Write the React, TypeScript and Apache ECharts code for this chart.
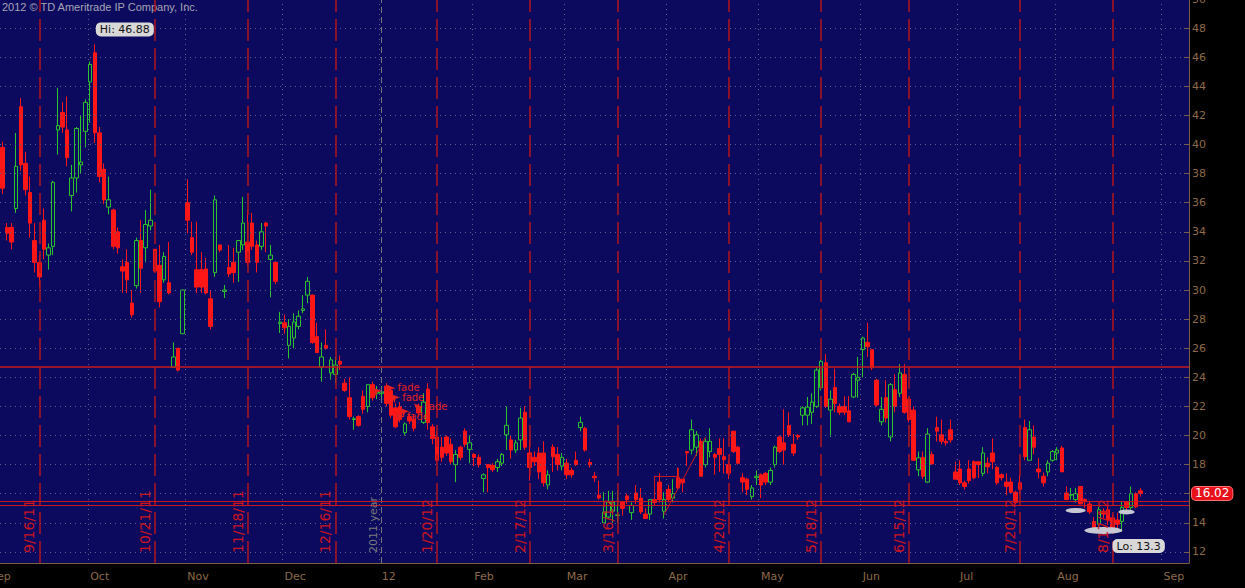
import React, { useEffect, useRef } from 'react';
import * as echarts from 'echarts';

// ---------- calendar ----------
const FIRST_DAY = '2011-09-06';
const LAST_DAY = '2012-09-11';
const HOLIDAYS = ['2011-09-05', '2011-11-24', '2011-12-26', '2012-01-02', '2012-01-16', '2012-02-20', '2012-04-06', '2012-05-28', '2012-07-04', '2012-09-03'];

function tradingDays(first: string, last: string): string[] {
  const out: string[] = [];
  const d = new Date(first + 'T00:00:00Z');
  const end = new Date(last + 'T00:00:00Z');
  while (d <= end) {
    const s = d.toISOString().slice(0, 10);
    const wd = d.getUTCDay();
    if (wd !== 0 && wd !== 6 && HOLIDAYS.indexOf(s) < 0) out.push(s);
    d.setUTCDate(d.getUTCDate() + 1);
  }
  return out;
}
const dates = tradingDays(FIRST_DAY, LAST_DAY);

// ---------- daily candles [open, close, low, high] ----------
const sep11 = [
  [39.8, 37.0, 36.6, 40.2], [34.3, 33.9, 33.4, 34.6], [34.3, 33.3, 32.8, 34.6], [35.6, 38.5, 35.3, 40.8],
  [42.6, 38.6, 38.2, 43.2], [38.7, 36.9, 36.5, 39.5], [36.7, 34.6, 33.6, 37.8], [33.4, 31.9, 31.2, 34.6],
  [31.9, 30.9, 30.2, 32.4], [34.8, 32.8, 32.1, 35.6], [32.4, 32.9, 31.4, 33.2], [33.0, 37.4, 32.4, 37.5],
  [41.0, 41.3, 39.3, 43.9], [42.2, 41.2, 40.8, 42.9], [41.0, 39.1, 38.5, 43.3], [36.5, 37.7, 35.4, 38.6],
  [37.7, 41.1, 36.7, 41.2], [38.6, 38.8, 38.0, 42.0], [40.9, 42.9, 39.8, 43.1],
];
const oct11 = [
  [44.3, 45.5, 41.5, 45.7], [46.3, 40.8, 40.1, 46.88], [40.8, 37.8, 37.4, 41.2], [38.3, 36.2, 35.9, 38.7],
  [35.7, 36.2, 35.2, 37.8], [35.5, 33.0, 32.8, 35.6], [34.0, 32.9, 32.5, 34.3], [31.6, 31.3, 29.8, 32.1],
  [31.9, 30.7, 29.8, 32.8], [29.1, 28.3, 28.1, 30.0], [30.3, 33.4, 30.1, 33.6], [33.4, 31.5, 29.8, 34.8],
  [32.9, 34.5, 31.9, 35.5], [34.4, 34.8, 34.1, 36.9], [32.8, 31.3, 31.2, 32.8], [31.7, 29.2, 28.8, 33.1],
  [30.7, 32.3, 30.5, 32.6], [30.5, 29.8, 29.7, 33.3], [24.7, 25.4, 24.7, 26.4], [26.0, 24.5, 24.4, 26.0],
  [27.0, 30.0, 27.0, 30.0],
];
const nov11 = [
  [36.0, 34.8, 33.9, 37.6], [33.6, 32.6, 32.4, 34.7], [31.4, 30.2, 29.8, 34.7], [31.4, 30.2, 29.8, 32.6],
  [31.45, 29.8, 29.7, 32.2], [29.4, 27.5, 27.3, 30.0], [31.2, 36.2, 30.9, 36.5], [33.1, 32.75, 32.6, 33.1],
  [29.9, 30.0, 29.45, 30.35], [31.55, 31.1, 30.9, 33.1], [31.9, 31.2, 30.5, 32.9], [32.6, 33.4, 30.55, 33.4],
  [33.1, 34.6, 32.75, 36.4], [33.3, 31.9, 31.7, 35.5], [34.6, 33.0, 32.75, 35.3], [33.1, 31.9, 31.2, 33.4],
  [33.0, 34.0, 32.75, 34.6], [34.6, 34.4, 32.6, 34.7], [32.1, 32.4, 29.5, 33.1], [31.9, 30.6, 30.4, 31.9],
  [27.7, 27.8, 27.05, 28.5],
];
const dec11 = [
  [27.75, 27.4, 27.0, 28.3], [26.2, 27.5, 25.3, 28.0], [26.7, 27.8, 26.0, 28.4], [27.5, 28.2, 27.3, 28.6],
  [28.6, 28.7, 28.4, 29.65], [29.65, 30.6, 29.1, 30.9], [29.65, 26.4, 26.3, 29.7], [26.8, 25.7, 25.7, 27.75],
  [24.7, 25.4, 23.7, 26.4], [26.2, 26.0, 25.9, 27.3], [24.3, 25.2, 23.85, 25.4], [24.2, 24.85, 23.6, 25.4],
  [25.1, 24.9, 24.5, 25.5], [23.6, 23.1, 23.0, 23.9], [22.6, 21.3, 21.1, 24.0], [21.1, 21.15, 20.4, 21.3],
  [21.3, 20.7, 20.6, 21.4], [22.7, 21.8, 21.5, 23.1], [22.0, 23.5, 21.6, 23.5], [23.5, 22.6, 22.4, 23.7],
  [22.9, 23.0, 22.5, 23.4],
];
const jan12 = [
  [22.9, 23.0, 22.4, 23.4], [23.4, 22.2, 22.0, 23.6], [23.1, 21.4, 21.2, 23.2], [21.9, 20.6, 20.5, 22.2],
  [22.0, 21.1, 20.9, 22.3], [20.2, 20.8, 20.0, 20.9], [21.3, 21.0, 20.8, 21.5], [21.1, 20.5, 20.3, 21.4],
  [22.0, 21.55, 21.3, 22.2], [20.9, 22.3, 20.8, 22.9], [23.2, 20.9, 20.4, 23.6], [20.6, 19.8, 19.4, 20.8],
  [19.9, 18.3, 18.2, 20.3], [19.2, 18.5, 18.2, 19.9], [19.9, 18.8, 18.6, 20.0], [19.4, 18.2, 18.0, 19.8],
  [18.0, 18.7, 16.8, 19.0], [19.2, 18.5, 18.3, 19.3], [20.3, 19.4, 19.2, 20.5], [19.05, 19.5, 18.1, 20.0],
];
const feb12 = [
  [18.7, 18.5, 17.9, 18.8], [18.5, 18.0, 17.8, 18.7], [17.05, 17.3, 16.1, 17.4], [18.0, 17.8, 16.1, 18.0],
  [17.95, 17.65, 17.5, 18.1], [17.8, 18.2, 17.5, 18.4], [18.1, 18.7, 17.9, 18.8], [20.05, 20.7, 19.0, 22.0],
  [19.7, 19.0, 18.4, 20.0], [19.0, 19.5, 18.8, 19.7], [19.7, 21.2, 19.0, 21.9], [21.6, 19.2, 19.0, 22.0],
  [18.8, 17.8, 16.9, 19.7], [18.5, 18.2, 17.9, 18.9], [18.8, 17.5, 17.0, 19.2], [18.8, 16.75, 16.5, 19.6],
  [16.6, 17.3, 16.3, 17.6], [19.2, 18.55, 17.5, 19.4], [18.7, 18.0, 17.6, 19.2], [17.9, 18.5, 17.6, 18.8],
];
const mar12 = [
  [18.1, 17.3, 17.0, 18.4], [17.6, 17.3, 17.1, 17.8], [18.3, 18.0, 17.9, 18.9], [20.55, 20.9, 20.3, 21.3],
  [20.5, 19.0, 18.9, 20.6], [18.15, 18.0, 17.8, 18.4], [17.2, 17.1, 16.8, 17.5], [15.9, 15.7, 15.6, 16.9],
  [14.0, 14.75, 14.0, 16.1], [14.4, 15.4, 14.3, 16.2], [14.8, 15.4, 14.0, 16.2], [14.5, 14.55, 14.0, 16.2],
  [15.4, 15.0, 14.5, 15.5], [15.85, 15.6, 15.3, 16.0], [14.7, 15.2, 14.2, 15.4], [16.05, 15.6, 15.3, 16.6],
  [15.7, 14.75, 14.6, 16.4], [14.6, 14.3, 14.3, 15.0], [14.6, 15.6, 14.2, 15.6], [15.6, 15.4, 15.2, 15.7],
  [16.8, 15.6, 15.4, 17.4], [14.8, 15.6, 14.3, 16.1],
];
const apr12 = [
  [16.3, 15.6, 15.4, 16.6], [15.7, 16.0, 15.4, 17.0], [17.1, 16.4, 16.3, 17.8], [17.0, 16.75, 16.1, 17.0],
  [18.9, 18.8, 17.9, 18.9], [19.0, 20.4, 18.7, 21.1], [19.2, 20.05, 18.6, 20.3], [19.6, 17.2, 17.2, 19.8],
  [18.0, 19.6, 17.8, 19.8], [18.9, 19.6, 18.5, 20.5], [18.7, 18.5, 17.3, 18.8], [19.1, 18.7, 17.5, 19.8],
  [18.55, 18.35, 17.4, 19.8], [18.0, 17.4, 17.0, 18.3], [20.3, 18.9, 18.8, 20.3], [19.2, 18.1, 18.0, 19.3],
  [17.1, 16.8, 16.1, 17.4], [17.0, 16.3, 15.9, 17.1], [15.8, 16.4, 15.6, 16.6], [17.1, 17.2, 16.6, 17.6],
];
const may12 = [
  [17.3, 16.6, 15.7, 17.4], [17.4, 16.8, 16.6, 17.5], [16.8, 17.6, 16.6, 17.8], [18.0, 19.2, 17.8, 19.3],
  [19.9, 18.9, 18.8, 20.0], [19.5, 19.0, 18.0, 21.8], [20.7, 20.05, 19.9, 21.6], [19.4, 18.8, 18.6, 20.1],
  [20.0, 19.9, 19.7, 20.1], [21.4, 21.9, 20.7, 22.0], [21.4, 21.95, 20.7, 22.65], [21.6, 22.3, 20.8, 22.9],
  [22.0, 24.5, 21.9, 24.7], [23.3, 25.1, 23.1, 25.2], [25.0, 22.0, 21.9, 25.6], [21.75, 22.5, 19.9, 23.1],
  [23.3, 22.2, 21.6, 24.6], [22.0, 21.6, 21.4, 22.2], [22.0, 21.6, 21.4, 22.7], [21.7, 20.95, 20.9, 22.7],
  [22.65, 24.2, 22.6, 24.3], [23.8, 24.0, 22.6, 25.4],
];
const jun12 = [
  [25.9, 26.7, 24.0, 26.8], [26.4, 26.1, 25.4, 27.75], [25.9, 24.65, 24.5, 25.9], [23.8, 22.1, 22.0, 23.9],
  [20.95, 21.8, 20.7, 22.65], [22.6, 21.2, 20.9, 23.8], [19.9, 23.5, 19.6, 23.6], [23.15, 22.0, 21.6, 24.2],
  [22.9, 24.3, 22.65, 24.9], [24.2, 21.6, 21.5, 24.9], [22.5, 21.1, 20.9, 22.6], [21.75, 18.3, 18.3, 22.0],
  [17.64, 18.47, 17.2, 18.9], [18.5, 17.2, 17.0, 18.9], [16.8, 20.1, 16.75, 20.5], [18.7, 18.05, 18.0, 18.9],
  [20.55, 20.3, 19.6, 21.3], [20.05, 19.6, 19.4, 21.1], [19.6, 19.5, 19.3, 19.8], [20.4, 19.7, 19.5, 21.1],
  [17.5, 17.0, 17.0, 18.2],
];
const jul12 = [
  [17.7, 16.75, 16.6, 18.3], [16.75, 16.5, 16.3, 16.9], [17.7, 16.9, 16.7, 18.3], [18.2, 17.1, 17.0, 18.3],
  [18.2, 18.0, 17.1, 18.2], [17.4, 18.8, 17.2, 19.2], [18.1, 17.85, 17.4, 18.5], [18.8, 18.2, 17.7, 19.8],
  [17.8, 16.75, 16.6, 17.9], [17.3, 17.1, 16.9, 17.4], [16.8, 16.5, 15.9, 17.4], [16.8, 16.1, 16.0, 17.1],
  [16.1, 15.4, 15.3, 16.2], [16.75, 16.3, 16.0, 17.3], [20.55, 18.55, 18.3, 21.1], [18.3, 20.4, 18.3, 21.0],
  [19.9, 19.2, 18.7, 20.7], [17.7, 17.5, 17.05, 18.45], [17.2, 16.75, 16.5, 17.45], [17.5, 18.1, 17.2, 18.3],
  [18.3, 18.9, 18.2, 19.0],
];
const aug12 = [
  [18.8, 19.0, 18.3, 19.2], [19.15, 17.5, 17.5, 19.3], [16.05, 15.6, 15.6, 16.5], [15.9, 15.95, 15.6, 16.4],
  [15.6, 16.0, 15.4, 16.4], [16.5, 15.3, 15.3, 16.5], [15.6, 15.45, 15.0, 15.7], [15.3, 14.75, 14.6, 15.45],
  [14.1, 13.65, 13.65, 14.4], [13.9, 14.9, 13.4, 15.1], [14.8, 14.6, 14.3, 15.0], [14.9, 14.2, 13.85, 15.1],
  [14.35, 13.45, 13.3, 14.55], [14.2, 13.9, 13.6, 14.7], [14.1, 15.05, 13.4, 15.45], [15.4, 15.05, 14.9, 15.5],
  [15.05, 16.0, 14.9, 16.5], [16.0, 15.1, 15.0, 16.1], [16.2, 16.02, 15.8, 16.4],
];
const candles = [...sep11, ...oct11, ...nov11, ...dec11, ...jan12, ...feb12, ...mar12, ...apr12, ...may12, ...jun12, ...jul12, ...aug12];

// ---------- axis / reference values ----------
const yTicks = [12, 14, 16, 18, 20, 22, 24, 26, 28, 30, 32, 34, 36, 38, 40, 42, 44, 46, 48, 50];
const yLabelTicks = [12, 14, 18, 20, 22, 24, 26, 28, 30, 32, 34, 36, 38, 40, 42, 44, 46, 48, 50];
const monthNames = ['Jan', 'Feb', 'Mar', 'Apr', 'May', 'Jun', 'Jul', 'Aug', 'Sep', 'Oct', 'Nov', 'Dec'];
const expirations = ['2011-09-16', '2011-10-21', '2011-11-18', '2011-12-16', '2012-01-20', '2012-02-17', '2012-03-16', '2012-04-20', '2012-05-18', '2012-06-15', '2012-07-20', '2012-08-17'];
const yearMarker = '2012-01-03';
const resistance = 24.72;
const supports = [15.47, 15.2];
const lastClose = 16.02;
const hiPoint = { date: '2011-10-04', value: 46.88 };
const loPoint = { date: '2012-08-17', value: 13.3 };
const fadeNotes = [
  { date: '2012-01-04', value: 23.5, text: 'fade' },
  { date: '2012-01-05', value: 22.85, text: 'fade' },
  { date: '2012-01-12', value: 22.2, text: 'fade' },
  { date: '2012-01-06', value: 21.55, text: 'fade' },
  { date: '2011-12-29', value: 23.3, text: '' },
  { date: '2012-01-09', value: 21.9, text: '' },
];
const ellipses = [
  { date: '2012-08-07', value: 14.85, w: 20, h: 5 },
  { date: '2012-08-15', value: 13.48, w: 38, h: 7 },
  { date: '2012-08-22', value: 14.75, w: 16, h: 5 },
];
// channel drawing near April (category index, value)
const channel = [
  [[141, 15.57], [141, 17.22]],
  [[141, 17.22], [146, 17.22]],
  [[146, 17.77], [146, 16.4]],
  [[143, 14.54], [152, 19.9]],
];

const AXIS_BROWN = '#7b5d3f';
const LABEL_BROWN = '#8c6a48';
const GRID_DOT = '#5e5e90';
const NAVY = '#0c0a5e';
const RED = '#ff1616';
const GREEN = '#2cc42c';

function isMonthStart(i: number): boolean {
  return i > 0 && dates[i].slice(0, 7) !== dates[i - 1].slice(0, 7);
}
function monthLabel(v: string): string {
  const m = parseInt(v.slice(5, 7), 10);
  return m === 1 ? v.slice(2, 4) : monthNames[m - 1];
}
function expLabel(d: string): string {
  return `${parseInt(d.slice(5, 7), 10)}/${parseInt(d.slice(8, 10), 10)}/${d.slice(2, 4)}`;
}

export default function App() {
  const ref = useRef<HTMLDivElement>(null);
  useEffect(() => {
    if (!ref.current) return;
    const chart = echarts.init(ref.current, null, { renderer: 'svg' });
    const option: any = {
      animation: false,
      backgroundColor: '#000000',
      grid: {
        left: 0, right: 56, top: -1, bottom: 25, show: true, backgroundColor: NAVY, borderWidth: 0,
        containLabel: false, outerBoundsMode: 'none',
      },
      graphic: [
        { type: 'text', x: 2, y: 1, style: { text: '2012 © TD Ameritrade IP Company, Inc.', fill: '#a4a4b4', font: '11px "Liberation Sans"' } },
        { type: 'text', x: -10, y: 571, style: { text: 'Sep', fill: LABEL_BROWN, font: '11px "DejaVu Sans"' } },
      ],
      xAxis: {
        type: 'category',
        data: dates,
        boundaryGap: true,
        axisLine: { lineStyle: { color: AXIS_BROWN } },
        axisTick: { inside: true, length: 5, interval: (i: number) => isMonthStart(i), lineStyle: { color: AXIS_BROWN } },
        axisLabel: { interval: (i: number) => isMonthStart(i), formatter: monthLabel, color: LABEL_BROWN, fontSize: 11, fontFamily: 'DejaVu Sans', align: 'left', margin: 8 },
        splitLine: { show: true, interval: (i: number) => isMonthStart(i), lineStyle: { color: GRID_DOT, type: [1, 4] } },
      },
      yAxis: {
        type: 'value',
        position: 'right',
        min: 11.24,
        max: 50,
        axisLine: { show: true, lineStyle: { color: AXIS_BROWN } },
        axisTick: { show: true, inside: true, length: 5, lineStyle: { color: AXIS_BROWN }, customValues: yTicks },
        axisLabel: { color: LABEL_BROWN, fontSize: 11, fontFamily: 'DejaVu Sans', margin: 3, customValues: yLabelTicks },
        splitLine: { show: false },
      },
      series: [
        {
          type: 'line', data: [], z: 1, silent: true,
          markLine: {
            silent: true, symbol: ['none', 'none'], label: { show: false },
            lineStyle: { color: GRID_DOT, type: [1, 4], width: 1 },
            data: yTicks.filter((v) => v < 50).map((v) => ({ yAxis: v })),
          },
        },
        {
          type: 'line', data: [], z: 2, silent: true,
          markLine: {
            silent: true, symbol: ['none', 'none'],
            lineStyle: { color: '#b3141c', width: 1.5, type: [22, 7] },
            label: { show: true, position: 'insideStartTop', formatter: (p: any) => p.name, color: '#c8141e', fontSize: 14, fontFamily: 'DejaVu Sans', distance: [10, 3] },
            data: [
              ...expirations.map((d) => ({ xAxis: d, name: expLabel(d) })),
              {
                xAxis: yearMarker, name: '2011 year',
                lineStyle: { color: '#767676', width: 1, type: [6, 4] },
                label: { color: '#7a7a7a', fontSize: 11 },
              },
            ],
          },
        },
        {
          type: 'line', data: [], z: 2, silent: true,
          markLine: {
            silent: true, symbol: ['none', 'none'], label: { show: false },
            lineStyle: { color: '#c8181e', width: 1, type: 'solid' },
            data: [
              { yAxis: resistance, lineStyle: { width: 1.5, type: 'solid' } },
              ...supports.map((v) => ({ yAxis: v })),
              ...channel.map((seg) => [
                { coord: [dates[seg[0][0]], seg[0][1]] },
                { coord: [dates[seg[1][0]], seg[1][1]] },
              ]),
            ],
          },
        },
        {
          type: 'line', data: [], z: 5, silent: true,
          markLine: {
            silent: true, symbol: ['none', 'none'],
            lineStyle: { color: 'rgba(0,0,0,0)', width: 0 },
            label: {
              show: true, position: 'end', formatter: String(lastClose), color: '#ffffff', backgroundColor: '#e8101a',
              borderColor: '#ff7070', borderWidth: 1, borderRadius: 4, padding: [1, 3, 0, 3], fontSize: 12, fontFamily: 'DejaVu Sans', distance: 3,
            },
            data: [{ yAxis: lastClose }],
          },
        },
        {
          type: 'candlestick',
          data: candles,
          z: 3,
          barWidth: 4,
          itemStyle: { color: 'rgba(0,0,0,0)', color0: RED, borderColor: GREEN, borderColor0: RED, borderWidth: 1 },
          markPoint: {
            silent: true,
            symbol: 'circle', symbolSize: 0,
            data: [
              {
                coord: [hiPoint.date, hiPoint.value],
                label: { show: true, formatter: 'Hi: ' + hiPoint.value, backgroundColor: '#d8d8d8', color: '#111', borderRadius: 5, padding: [2, 4, 1, 4], fontSize: 11, fontFamily: 'DejaVu Sans', offset: [30, -15] },
              },
              {
                coord: [loPoint.date, loPoint.value],
                label: { show: true, formatter: 'Lo: ' + loPoint.value, backgroundColor: '#d8d8d8', color: '#111', borderRadius: 5, padding: [2, 4, 1, 4], fontSize: 11, fontFamily: 'DejaVu Sans', offset: [26, 13] },
              },
            ],
          },
        },
        {
          type: 'line', data: [], z: 4, silent: true,
          markPoint: {
            silent: true,
            data: [
              ...ellipses.map((e) => ({
                coord: [e.date, e.value], symbol: 'circle', symbolSize: [e.w, e.h],
                itemStyle: { color: '#c8c8d2' }, label: { show: false },
              })),
              ...fadeNotes.map((f) => ({
                coord: [f.date, f.value], symbol: 'arrow', symbolSize: [6, 9], symbolRotate: 45,
                itemStyle: { color: '#e42020' },
                label: { show: f.text !== '', position: 'right', distance: 2, formatter: f.text, color: '#e42020', fontSize: 10, lineHeight: 10, fontFamily: 'DejaVu Sans' },
              })),
            ],
          },
        },
      ],
    };
    chart.setOption(option);
    return () => chart.dispose();
  }, []);
  return <div ref={ref} style={{ position: 'absolute', left: 0, top: 0, width: 1245, height: 588 }} />;
}
